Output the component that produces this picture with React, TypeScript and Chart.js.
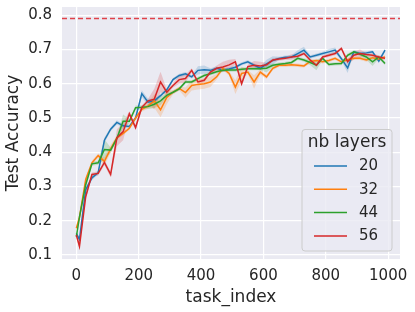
import React, { useEffect, useRef } from 'react';
import { Chart, registerables } from 'chart.js';
Chart.register(...registerables);

const tasks = [0, 10, 30, 50, 70, 90, 110, 130, 150, 170, 190, 210, 230, 250, 270, 290, 310, 330, 350, 370, 390, 410, 430, 450, 470, 490, 510, 530, 550, 570, 590, 610, 630, 650, 670, 690, 710, 730, 750, 770, 790, 810, 830, 850, 870, 890, 910, 930, 950, 970, 990];

const acc20 = [0.163, 0.145, 0.29, 0.325, 0.34, 0.435, 0.467, 0.487, 0.477, 0.475, 0.5, 0.571, 0.546, 0.55, 0.565, 0.582, 0.612, 0.624, 0.629, 0.62, 0.639, 0.641, 0.639, 0.645, 0.64, 0.643, 0.648, 0.658, 0.664, 0.654, 0.645, 0.658, 0.668, 0.674, 0.677, 0.678, 0.688, 0.698, 0.678, 0.683, 0.688, 0.693, 0.698, 0.673, 0.646, 0.693, 0.688, 0.69, 0.693, 0.666, 0.698];

const acc32 = [0.178, 0.21, 0.32, 0.369, 0.39, 0.373, 0.41, 0.442, 0.455, 0.47, 0.5, 0.525, 0.535, 0.55, 0.524, 0.56, 0.575, 0.586, 0.574, 0.595, 0.598, 0.6, 0.605, 0.62, 0.645, 0.63, 0.59, 0.63, 0.634, 0.605, 0.634, 0.62, 0.645, 0.654, 0.654, 0.655, 0.654, 0.652, 0.665, 0.668, 0.664, 0.668, 0.674, 0.664, 0.67, 0.674, 0.674, 0.669, 0.676, 0.672, 0.678];

const acc44 = [0.153, 0.21, 0.305, 0.366, 0.369, 0.408, 0.406, 0.44, 0.49, 0.49, 0.53, 0.531, 0.533, 0.54, 0.55, 0.566, 0.575, 0.585, 0.605, 0.605, 0.615, 0.624, 0.629, 0.635, 0.639, 0.64, 0.64, 0.642, 0.644, 0.644, 0.644, 0.645, 0.654, 0.657, 0.659, 0.662, 0.674, 0.669, 0.662, 0.654, 0.674, 0.656, 0.658, 0.659, 0.683, 0.693, 0.686, 0.678, 0.664, 0.678, 0.659];

const acc56 = [0.158, 0.125, 0.27, 0.335, 0.338, 0.37, 0.335, 0.442, 0.46, 0.512, 0.472, 0.531, 0.55, 0.555, 0.605, 0.575, 0.595, 0.612, 0.615, 0.639, 0.605, 0.61, 0.634, 0.645, 0.649, 0.655, 0.664, 0.6, 0.65, 0.654, 0.652, 0.655, 0.669, 0.672, 0.674, 0.678, 0.68, 0.688, 0.669, 0.654, 0.678, 0.683, 0.688, 0.703, 0.664, 0.683, 0.688, 0.685, 0.683, 0.678, 0.674];

// half-width of the confidence band around each line, read from the shading
const ci20 = [0.005, 0.006, 0.008, 0.006, 0.006, 0.008, 0.006, 0.006, 0.005, 0.005, 0.006, 0.01, 0.01, 0.006, 0.005, 0.005, 0.005, 0.005, 0.005, 0.005, 0.012, 0.012, 0.006, 0.005, 0.005, 0.005, 0.005, 0.005, 0.005, 0.005, 0.005, 0.012, 0.012, 0.005, 0.005, 0.005, 0.01, 0.01, 0.005, 0.005, 0.005, 0.008, 0.008, 0.005, 0.015, 0.005, 0.005, 0.005, 0.005, 0.006, 0.005];

const ci32 = [0.006, 0.008, 0.008, 0.006, 0.006, 0.012, 0.012, 0.006, 0.005, 0.005, 0.006, 0.006, 0.008, 0.02, 0.022, 0.02, 0.006, 0.006, 0.015, 0.015, 0.015, 0.015, 0.015, 0.008, 0.006, 0.006, 0.02, 0.02, 0.006, 0.02, 0.008, 0.006, 0.006, 0.005, 0.005, 0.005, 0.005, 0.005, 0.005, 0.005, 0.005, 0.005, 0.005, 0.005, 0.005, 0.005, 0.005, 0.005, 0.005, 0.005, 0.005];

const ci44 = [0.006, 0.008, 0.008, 0.006, 0.006, 0.03, 0.008, 0.006, 0.02, 0.006, 0.006, 0.006, 0.006, 0.012, 0.012, 0.006, 0.005, 0.005, 0.005, 0.005, 0.005, 0.005, 0.005, 0.005, 0.005, 0.005, 0.005, 0.005, 0.005, 0.005, 0.005, 0.012, 0.005, 0.005, 0.005, 0.005, 0.005, 0.005, 0.008, 0.015, 0.005, 0.005, 0.005, 0.005, 0.005, 0.005, 0.005, 0.008, 0.012, 0.005, 0.005];

const ci56 = [0.006, 0.008, 0.008, 0.006, 0.006, 0.008, 0.008, 0.025, 0.025, 0.008, 0.008, 0.006, 0.006, 0.03, 0.03, 0.008, 0.006, 0.012, 0.012, 0.006, 0.006, 0.006, 0.006, 0.008, 0.015, 0.015, 0.008, 0.008, 0.006, 0.012, 0.012, 0.006, 0.005, 0.005, 0.005, 0.008, 0.005, 0.005, 0.005, 0.005, 0.005, 0.005, 0.005, 0.005, 0.008, 0.012, 0.012, 0.005, 0.005, 0.005, 0.005];

const layerLabels = ['20', '32', '44', '56'];
const layerColors = ['#1f77b4', '#ff7f0e', '#2ca02c', '#d62728'];
const bandColors = ['rgba(31,119,180,0.2)', 'rgba(255,127,14,0.2)', 'rgba(44,160,44,0.2)', 'rgba(214,39,40,0.2)'];
const upperBound = 0.793;
const xTicks = [0, 200, 400, 600, 800, 1000];
const yTicks = [0.1, 0.2, 0.3, 0.4, 0.5, 0.6, 0.7, 0.8];
const legendTitle = 'nb layers';

const FONT = "'DejaVu Sans', sans-serif";
const TEXT = '#262626';

const bgPlugin = {
  id: 'bg',
  beforeDraw(chart: any) {
    const { ctx, chartArea: a } = chart;
    ctx.save();
    ctx.fillStyle = '#EAEAF2';
    ctx.fillRect(a.left, a.top, a.right - a.left, a.bottom - a.top);
    ctx.restore();
  },
};

const refLinePlugin = {
  id: 'refLine',
  afterDatasetsDraw(chart: any) {
    const { ctx, chartArea: a, scales } = chart;
    const y = Math.round(scales.y.getPixelForValue(upperBound)) + 0.5;
    ctx.save();
    ctx.strokeStyle = '#e0424a';
    ctx.lineWidth = 1.5;
    ctx.setLineDash([5, 3]);
    ctx.beginPath();
    ctx.moveTo(a.left, y);
    ctx.lineTo(a.right, y);
    ctx.stroke();
    ctx.restore();
  },
};

const legendPlugin = {
  id: 'customLegend',
  afterDraw(chart: any) {
    const { ctx, chartArea: a } = chart;
    const w = 90;
    const h = 121.5;
    const right = a.right - 8;
    const bottom = a.bottom - 8;
    const left = right - w;
    const top = bottom - h;
    ctx.save();
    ctx.beginPath();
    const r = 3;
    ctx.moveTo(left + r, top);
    ctx.lineTo(right - r, top);
    ctx.arcTo(right, top, right, top + r, r);
    ctx.lineTo(right, bottom - r);
    ctx.arcTo(right, bottom, right - r, bottom, r);
    ctx.lineTo(left + r, bottom);
    ctx.arcTo(left, bottom, left, bottom - r, r);
    ctx.lineTo(left, top + r);
    ctx.arcTo(left, top, left + r, top, r);
    ctx.closePath();
    ctx.fillStyle = 'rgba(234,234,242,0.8)';
    ctx.fill();
    ctx.strokeStyle = '#cccccc';
    ctx.lineWidth = 1;
    ctx.stroke();

    ctx.fillStyle = TEXT;
    ctx.font = `17px ${FONT}`;
    ctx.textAlign = 'center';
    ctx.textBaseline = 'middle';
    ctx.fillText(legendTitle, left + w / 2, top + 13.5);

    ctx.font = `15px ${FONT}`;
    ctx.textAlign = 'left';
    layerLabels.forEach((lab, i) => {
      const y = top + 36.5 + i * 23.3;
      ctx.strokeStyle = layerColors[i];
      ctx.lineWidth = 1.5;
      ctx.beginPath();
      ctx.moveTo(left + 12, y);
      ctx.lineTo(left + 45, y);
      ctx.stroke();
      ctx.fillStyle = TEXT;
      ctx.fillText(lab, left + 57, y + 0.5);
    });
    ctx.restore();
  },
};

const series = [acc20, acc32, acc44, acc56];
const bands = [ci20, ci32, ci44, ci56];

export default function App() {
  const ref = useRef<HTMLCanvasElement>(null);
  useEffect(() => {
    document.body.style.margin = '0';
    const canvas = ref.current;
    if (!canvas) return;
    const lineSets = series.map((vals, i) => ({
      label: layerLabels[i],
      data: tasks.map((t, j) => ({ x: t, y: vals[j] })),
      borderColor: layerColors[i],
      backgroundColor: layerColors[i],
      borderWidth: 1.5,
      pointRadius: 0,
      tension: 0,
      fill: false,
      order: 3 - i,
    }));
    const bandSets: any[] = [];
    series.forEach((vals, i) => {
      bandSets.push({
        label: layerLabels[i] + ' lower',
        data: tasks.map((t, j) => ({ x: t, y: vals[j] - bands[i][j] })),
        borderWidth: 0,
        borderColor: 'rgba(0,0,0,0)',
        pointRadius: 0,
        tension: 0,
        fill: false,
        order: 20,
      });
      bandSets.push({
        label: layerLabels[i] + ' upper',
        data: tasks.map((t, j) => ({ x: t, y: vals[j] + bands[i][j] })),
        borderWidth: 0,
        borderColor: 'rgba(0,0,0,0)',
        backgroundColor: bandColors[i],
        pointRadius: 0,
        tension: 0,
        fill: '-1',
        order: 20,
      });
    });
    const chart = new Chart(canvas, {
      type: 'line',
      data: { datasets: [...lineSets, ...bandSets] },
      options: {
        animation: false,
        responsive: false,
        maintainAspectRatio: false,
        devicePixelRatio: 1,
        layout: { padding: { top: 7, right: 15, left: 0, bottom: 0 } },
        plugins: {
          legend: { display: false },
          tooltip: { enabled: false },
        },
        scales: {
          x: {
            type: 'linear',
            min: -46,
            max: 1038,
            afterBuildTicks: (s: any) => {
              s.ticks = xTicks.map((v) => ({ value: v }));
            },
            afterFit: (s: any) => {
              s.height = 53;
              s.paddingLeft = 0;
              s.paddingRight = 0;
            },
            grid: { color: '#ffffff', lineWidth: 1.2, drawTicks: false },
            border: { display: false },
            ticks: {
              padding: 8,
              color: TEXT,
              font: { family: FONT, size: 15 },
              callback: (v: any) => String(v),
              maxRotation: 0,
            },
            title: {
              display: true,
              text: 'task_index',
              color: TEXT,
              font: { family: FONT, size: 17 },
              padding: { top: 4, bottom: 4 },
            },
          },
          y: {
            type: 'linear',
            min: 0.088,
            max: 0.824,
            afterBuildTicks: (s: any) => {
              s.ticks = yTicks.map((v) => ({ value: v }));
            },
            afterFit: (s: any) => {
              s.width = 62;
              s.paddingTop = 0;
              s.paddingBottom = 0;
            },
            grid: { color: '#ffffff', lineWidth: 1.2, drawTicks: false },
            border: { display: false },
            ticks: {
              padding: 10,
              color: TEXT,
              font: { family: FONT, size: 15 },
              callback: (v: any) => Number(v).toFixed(1),
            },
            title: {
              display: true,
              text: 'Test Accuracy',
              color: TEXT,
              font: { family: FONT, size: 17 },
              padding: { top: 3, bottom: 4 },
            },
          },
        },
      },
      plugins: [bgPlugin, refLinePlugin, legendPlugin],
    });
    return () => chart.destroy();
  }, []);
  return (
    <div style={{ width: 415, height: 312 }}>
      <canvas ref={ref} width={415} height={312} style={{ display: 'block', width: 415, height: 312 }} />
    </div>
  );
}
